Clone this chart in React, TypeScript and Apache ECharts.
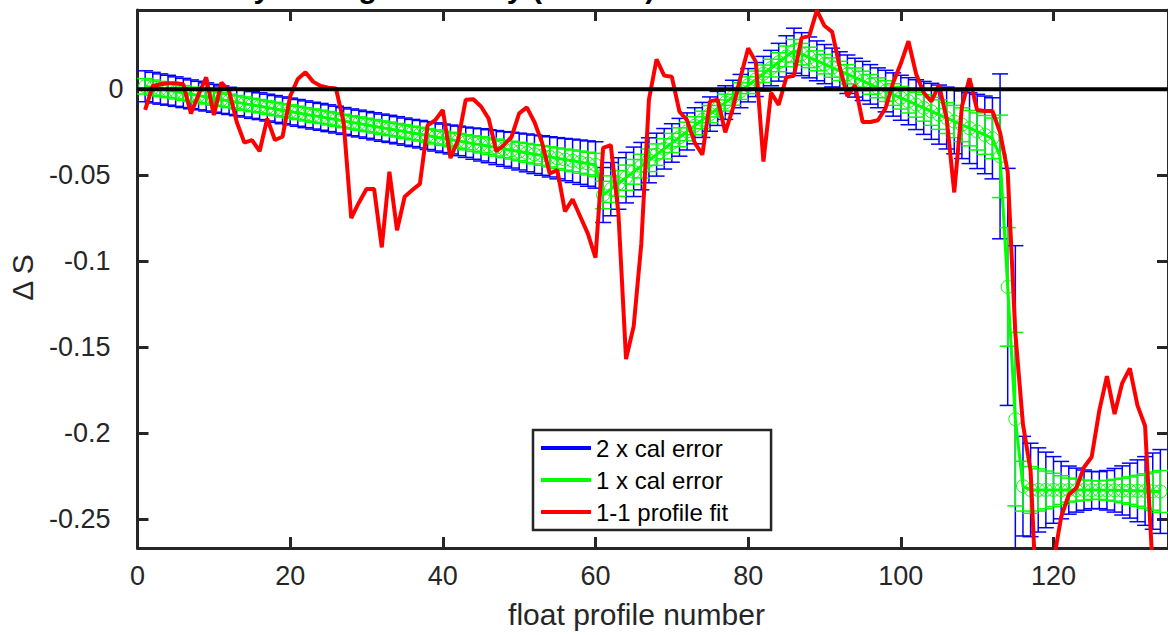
import React, { useEffect, useRef } from "react";
import * as echarts from "echarts";

const FONT = '"Liberation Sans", Arial, Helvetica, sans-serif';

const xTicks = [0, 20, 40, 60, 80, 100, 120];
const yTicks = [-0.25, -0.2, -0.15, -0.1, -0.05, 0];
const yLabelsNegative = [-0.25, -0.2, -0.15, -0.1, -0.05];
const yLabelZero = [0];

const legendNames = ["2 x cal error", "1 x cal error", "1-1 profile fit"];

// red: 1-1 profile fit, profiles 1..134
const profileFit = [
  -0.012, 0.002, 0.003, 0.0035, 0.0035, 0.003, -0.014, -0.003, 0.007, -0.015,
  0.004, -0.001, -0.019, -0.031, -0.0295, -0.036, -0.017, -0.0295, -0.0276, -0.004,
  0.006, 0.01, 0.0045, 0.002, 0.001, 0.0005, -0.019, -0.075, -0.066, -0.058,
  -0.058, -0.092, -0.048, -0.082, -0.0625, -0.0586, -0.055, -0.021, -0.018, -0.012,
  -0.04, -0.0295, -0.006, -0.0058, -0.01, -0.017, -0.036, -0.0324, -0.0276, -0.014,
  -0.0105, -0.019, -0.031, -0.049, -0.047, -0.071, -0.064, -0.074, -0.084, -0.098,
  -0.034, -0.0324, -0.072, -0.157, -0.138, -0.09, -0.006, 0.0175, 0.008, 0.0073,
  -0.013, -0.018, -0.031, -0.038, -0.007, -0.006, -0.025, -0.011, 0.007, 0.024,
  0.016, -0.042, -0.002, -0.009, 0.007, 0.008, 0.03, 0.031, 0.046, 0.037,
  0.0335, 0.013, -0.004, 0.0025, -0.019, -0.019, -0.018, -0.011, 0.004, 0.015,
  0.028, 0.009, -0.002, -0.007, 0.0025, -0.017, -0.06, -0.01, 0.0064, -0.012,
  -0.0126, -0.0126, -0.025, -0.048, -0.142, -0.195, -0.222, -0.32, -0.33, -0.275,
  -0.249, -0.236, -0.232, -0.22, -0.214, -0.187, -0.167, -0.189, -0.171, -0.1624,
  -0.184, -0.196, -0.28, -0.3,
];

// calibration offset (centre of the error bars)
const calOffset = [
  0.0018, 0.001, 0.0002, -0.0005, -0.0013, -0.0021, -0.0029, -0.0036, -0.0044, -0.0052,
  -0.006, -0.0067, -0.0075, -0.0083, -0.0091, -0.0098, -0.0106, -0.0114, -0.0122, -0.0129,
  -0.0137, -0.0145, -0.0153, -0.016, -0.0168, -0.0176, -0.0184, -0.0192, -0.0199, -0.0207,
  -0.0215, -0.0223, -0.023, -0.0238, -0.0246, -0.0254, -0.0261, -0.0269, -0.0277, -0.0285,
  -0.0292, -0.03, -0.0308, -0.0316, -0.0323, -0.0331, -0.0339, -0.0347, -0.0354, -0.0362,
  -0.037, -0.0378, -0.0385, -0.0393, -0.0401, -0.0409, -0.0416, -0.0424, -0.0432, -0.044,
  -0.0615, -0.0581, -0.0548, -0.0514, -0.048, -0.0447, -0.0413, -0.038, -0.0346, -0.0312,
  -0.0279, -0.0245, -0.0212, -0.0178, -0.0144, -0.0111, -0.0077, -0.0044, -0.001, 0.0024,
  0.0057, 0.0091, 0.0124, 0.0158, 0.0192, 0.0225, 0.0205, 0.0186, 0.0166, 0.0147,
  0.0127, 0.0107, 0.0088, 0.0068, 0.0049, 0.0029, 0.0009, -0.001, -0.003, -0.0049,
  -0.0069, -0.0089, -0.0108, -0.0128, -0.0147, -0.0167, -0.0187, -0.0206, -0.0226, -0.0245,
  -0.0265, -0.0285, -0.039, -0.115, -0.192, -0.231, -0.2332, -0.2332, -0.2332, -0.2332,
  -0.2333, -0.2333, -0.2333, -0.2333, -0.2333, -0.2333, -0.2334, -0.2334, -0.2335, -0.2336,
  -0.2337, -0.2338, -0.2339, -0.2341,
];

// 1 x calibration error
const calError = [
  0.0045, 0.00445, 0.0044, 0.00435, 0.0043, 0.00425, 0.0042, 0.00415, 0.0041, 0.00405,
  0.004, 0.00395, 0.0039, 0.0039, 0.0039, 0.0039, 0.0039, 0.0039, 0.0039, 0.0039,
  0.0039, 0.0039, 0.0039, 0.0039, 0.0039, 0.0039, 0.0039, 0.0039, 0.0039, 0.0039,
  0.00395, 0.00395, 0.00395, 0.00395, 0.00395, 0.00395, 0.004, 0.00405, 0.0041, 0.00415,
  0.0042, 0.0043, 0.0044, 0.00455, 0.0047, 0.0048, 0.00495, 0.00505, 0.0052, 0.00535,
  0.0055, 0.0056, 0.00575, 0.00585, 0.006, 0.00615, 0.0063, 0.00645, 0.0066, 0.00675,
  0.008, 0.00775, 0.0075, 0.00735, 0.0072, 0.0069, 0.00655, 0.00625, 0.0059, 0.0056,
  0.0055, 0.0054, 0.00525, 0.0051, 0.005, 0.00495, 0.0049, 0.00485, 0.00485, 0.00485,
  0.00495, 0.00505, 0.00515, 0.0055, 0.006, 0.00655, 0.00625, 0.00595, 0.0058, 0.0057,
  0.00565, 0.0056, 0.0056, 0.00565, 0.0057, 0.00575, 0.0058, 0.00605, 0.0063, 0.00655,
  0.00685, 0.00725, 0.0077, 0.00815, 0.0086, 0.009, 0.0094, 0.00985, 0.0103, 0.0108,
  0.0113, 0.0118, 0.024, 0.0345, 0.0505, 0.0145, 0.0136, 0.01225, 0.011, 0.0097,
  0.00835, 0.007, 0.0064, 0.00585, 0.0054, 0.0054, 0.00575, 0.00635, 0.00715, 0.008,
  0.009, 0.01, 0.0111, 0.0122,
];

const AXIS_COLOR = "#262626";

export default function App() {
  const ref = useRef<HTMLDivElement>(null);

  useEffect(() => {
    document.body.style.margin = "0";
    const chart = echarts.init(ref.current as HTMLDivElement, null, { renderer: "svg" });

    const redData = profileFit.map((v, i) => [i + 1, v]);
    const centerData = calOffset.map((v, i) => [i + 1, v]);
    const blueBars = calOffset.map((v, i) => [i + 1, v, 2 * calError[i]]);
    const greenBars = calOffset.map((v, i) => [i + 1, v, calError[i]]);

    const errRender = (color: string) => (params: any, api: any) => {
      const x = api.value(0);
      const c = api.value(1);
      const e = api.value(2);
      const top = api.coord([x, c + e]);
      const bot = api.coord([x, c - e]);
      const hw = 8;
      const st = { stroke: color, lineWidth: 1.5 };
      return {
        type: "group",
        children: [
          { type: "line", shape: { x1: top[0], y1: top[1], x2: bot[0], y2: bot[1] }, style: st },
          { type: "line", shape: { x1: top[0] - hw, y1: top[1], x2: top[0] + hw, y2: top[1] }, style: st },
          { type: "line", shape: { x1: bot[0] - hw, y1: bot[1], x2: bot[0] + hw, y2: bot[1] }, style: st },
        ],
      };
    };

    const axisLine = { show: true, onZero: false, lineStyle: { color: AXIS_COLOR, width: 3 } };
    const tickStyle = { color: AXIS_COLOR, width: 3 };
    const labelStyle = { fontSize: 27, color: AXIS_COLOR, fontFamily: FONT };

    const textStyle = (extra: any) => ({
      fontFamily: FONT,
      ...extra,
    });

    const Y_MIN = -0.267;
    const Y_MAX = 0.0462;

    chart.setOption({
      animation: false,
      backgroundColor: "#ffffff",
      grid: { left: 137.5, top: 10, width: 1034, height: 538, containLabel: false },
      xAxis: [
        {
          type: "value",
          min: 0,
          max: 135,
          position: "bottom",
          axisLine,
          axisTick: { show: true, inside: true, length: 11, lineStyle: tickStyle, customValues: xTicks },
          axisLabel: { ...labelStyle, margin: 14, customValues: xTicks },
          splitLine: { show: false },
        },
        {
          type: "value",
          min: 0,
          max: 135,
          position: "top",
          axisLine,
          axisTick: { show: true, inside: true, length: 11, lineStyle: tickStyle, customValues: xTicks },
          axisLabel: { show: false },
          splitLine: { show: false },
        },
      ],
      yAxis: [
        {
          type: "value",
          min: Y_MIN,
          max: Y_MAX,
          position: "left",
          axisLine,
          axisTick: { show: true, inside: true, length: 11, lineStyle: tickStyle, customValues: yTicks },
          axisLabel: {
            ...labelStyle,
            margin: 27,
            customValues: yLabelsNegative,
            formatter: (v: number) => String(v),
          },
          splitLine: { show: false },
        },
        {
          type: "value",
          min: Y_MIN,
          max: Y_MAX,
          position: "right",
          axisLine,
          axisTick: { show: true, inside: true, length: 11, lineStyle: tickStyle, customValues: yTicks },
          axisLabel: { show: false },
          splitLine: { show: false },
        },
        {
          type: "value",
          min: Y_MIN,
          max: Y_MAX,
          position: "left",
          offset: -13,
          axisLine: { show: false, onZero: false },
          axisTick: { show: false },
          axisLabel: {
            ...labelStyle,
            margin: 27,
            customValues: yLabelZero,
            formatter: (v: number) => String(v),
          },
          splitLine: { show: false },
        },
      ],
      legend: {
        left: 533,
        top: 430,
        orient: "vertical",
        icon: "rect",
        itemWidth: 50,
        itemHeight: 4,
        itemGap: 8,
        padding: [6, 43, 6, 8],
        borderColor: AXIS_COLOR,
        borderWidth: 2.5,
        backgroundColor: "#ffffff",
        textStyle: { fontSize: 24, color: "#000000", fontFamily: FONT },
        data: [
          { name: legendNames[0], itemStyle: { color: "#0000ff" } },
          { name: legendNames[1], itemStyle: { color: "#00ff00", borderWidth: 0 } },
          { name: legendNames[2], itemStyle: { color: "#ff0000" } },
        ],
        selectedMode: false,
      },
      graphic: [
        {
          type: "text",
          x: 140,
          y: 2,
          silent: true,
          style: textStyle({
            text: "vertically-averaged salinity (PSS-78) additive correction \u0394S with errors",
            fontSize: 30,
            fontWeight: "bold",
            fill: "#000000",
            align: "left",
            verticalAlign: "bottom",
            textAlign: "left",
            textVerticalAlign: "bottom",
          }),
        },
        {
          type: "text",
          x: 636.5,
          y: 614,
          silent: true,
          style: textStyle({
            text: "float profile number",
            fontSize: 30,
            fill: AXIS_COLOR,
            align: "center",
            verticalAlign: "middle",
            textAlign: "center",
            textVerticalAlign: "middle",
          }),
        },
        {
          type: "text",
          x: 22.5,
          y: 277.5,
          rotation: Math.PI / 2,
          silent: true,
          style: textStyle({
            text: "\u0394 S",
            fontSize: 30,
            fill: AXIS_COLOR,
            align: "center",
            verticalAlign: "middle",
            textAlign: "center",
            textVerticalAlign: "middle",
          }),
        },
      ],
      series: [
        {
          name: "2 x cal error bars",
          type: "custom",
          renderItem: errRender("#0000ff"),
          data: blueBars,
          clip: true,
          z: 2,
          silent: true,
        },
        {
          name: legendNames[0],
          type: "line",
          data: centerData,
          symbol: "none",
          lineStyle: { color: "#0000ff", width: 1.5 },
          itemStyle: { color: "#0000ff" },
          clip: true,
          z: 2,
          silent: true,
        },
        {
          name: "1 x cal error bars",
          type: "custom",
          renderItem: errRender("#00ff00"),
          data: greenBars,
          clip: true,
          z: 3,
          silent: true,
        },
        {
          name: legendNames[1],
          type: "line",
          data: centerData,
          symbol: "circle",
          symbolSize: 13,
          showAllSymbol: true,
          lineStyle: { color: "#00ff00", width: 3 },
          itemStyle: { color: "rgba(0,0,0,0)", borderColor: "#00ff00", borderWidth: 1 },
          clip: true,
          z: 3,
          silent: true,
        },
        {
          name: legendNames[2],
          type: "line",
          data: redData,
          symbol: "none",
          lineStyle: { color: "#ff0000", width: 4 },
          itemStyle: { color: "#ff0000" },
          clip: true,
          z: 4,
          silent: true,
        },
        {
          name: "zero",
          type: "line",
          data: [
            [0, 0],
            [135, 0],
          ],
          symbol: "none",
          lineStyle: { color: "#000000", width: 4 },
          clip: true,
          z: 5,
          silent: true,
        },
      ],
    });

    return () => chart.dispose();
  }, []);

  return <div ref={ref} style={{ width: 1168, height: 635 }} />;
}
